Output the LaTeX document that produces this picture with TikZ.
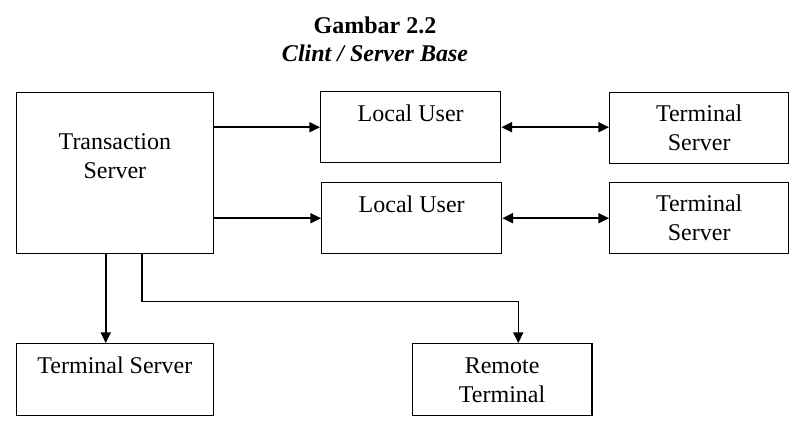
\documentclass[tikz,border=0pt]{standalone}
\usepackage{fontspec}
\setmainfont{Liberation Serif}
\usetikzlibrary{arrows.meta}

\begin{document}
\begin{tikzpicture}[x=0.5pt,y=-0.5pt,
  box/.style n args={3}{draw,line width=0.7pt,inner sep=0pt,anchor=north west,align=flush center,
    font=\fontsize{12}{14.5}\selectfont,text width=#1,text height=#2,text depth=#3},
  link/.style={line width=0.8pt,-{Triangle[length=5.3pt,width=5pt]}},
  both/.style={line width=0.8pt,{Triangle[length=5.3pt,width=5pt]}-{Triangle[length=5.3pt,width=5pt]}}]
\useasboundingbox (0,0) rectangle (793,434);
\node[font=\fontsize{12}{14.5}\selectfont\bfseries,anchor=base] (title) at (375,33) {Gambar 2.2};
\node[font=\fontsize{12}{14.5}\selectfont\bfseries\itshape,anchor=base] (sub) at (375,61) {Clint / Server Base};
\node[box={98.5pt}{28.5pt}{52pt}] (ts) at (15.7,92) {Transaction\\Server};
\node[box={90pt}{15pt}{20.5pt}] (lu1) at (320,91) {Local User};
\node[box={90pt}{15pt}{20.5pt}] (lu2) at (321,182) {Local User};
\node[box={89.5pt}{14.5pt}{21pt}] (tm1) at (609,92) {Terminal\\Server};
\node[box={89.5pt}{14.5pt}{21pt}] (tm2) at (609,182) {Terminal\\Server};
\node[box={98.5pt}{15pt}{21pt}] (tsb) at (15.7,343) {Terminal Server};
\node[box={89.7pt}{15pt}{21pt}] (rt) at (411.7,343) {Remote\\Terminal};
\draw[link] (ts.east |- lu1.west) -- (lu1.west);
\draw[link] (ts.east |- lu2.west) -- (lu2.west);
\draw[both] (lu1.east) -- (lu1.east -| tm1.west);
\draw[both] (lu2.east) -- (lu2.east -| tm2.west);
\draw[link] ([xshift=45pt]ts.south west) -- ([xshift=45pt]tsb.north west);
\draw[link] ([xshift=63pt]ts.south west) -- ++(0,47) -| ([xshift=53.3pt]rt.north west);
\end{tikzpicture}
\end{document}
